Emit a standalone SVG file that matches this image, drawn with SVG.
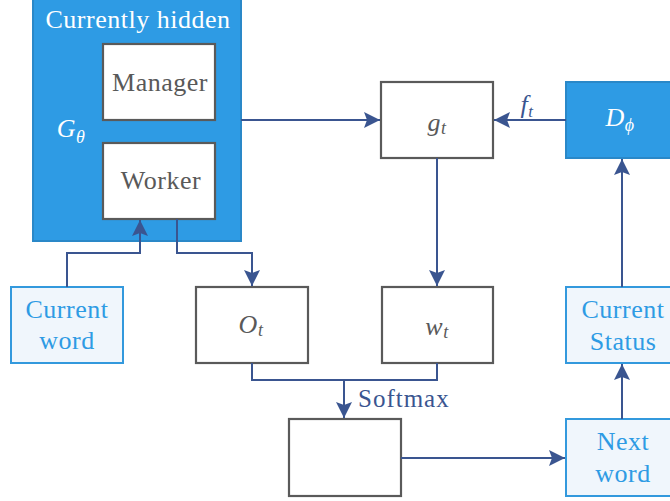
<svg xmlns="http://www.w3.org/2000/svg" width="670" height="501" viewBox="0 0 670 501">
<defs>
<style>
.blue{fill:#2e9be4;stroke:#2a88c8;stroke-width:2}
.gray{fill:#ffffff;stroke:#5a5a5a;stroke-width:2.2}
.light{fill:#f0f6fc;stroke:#3399dd;stroke-width:2}
.t{font-family:"Liberation Serif","Times New Roman",serif;font-size:26px;text-anchor:middle;letter-spacing:0.5px}
.w{fill:#ffffff}
.g{fill:#595959}
.b{fill:#2e9be4}
.i{font-style:italic}
.c{fill:none;stroke:#3a5590;stroke-width:2}
</style>
<marker id="ah" markerUnits="userSpaceOnUse" markerWidth="18" markerHeight="18" viewBox="0 0 18 18" refX="16" refY="9" orient="auto">
<path d="M0,1 L16,9 L0,17 L3,9 Z" fill="#3a5590"/>
</marker>
</defs>
<g id="generator">
<rect class="blue" x="33" y="-3" width="208" height="244"/>
<text class="t w" x="138" y="28">Currently hidden</text>
<text class="t w i" x="71" y="137">G<tspan font-size="18" dy="6">θ</tspan></text>
</g>
<g id="manager">
<rect class="gray" x="103" y="44" width="112" height="76"/>
<text class="t g" x="160" y="91">Manager</text>
</g>
<g id="worker">
<rect class="gray" x="103" y="143" width="112" height="76"/>
<text class="t g" x="161" y="189">Worker</text>
</g>
<g id="gt">
<rect class="gray" x="381" y="82" width="112" height="76"/>
<text class="t g i" x="437" y="131">g<tspan font-size="18" dy="3">t</tspan></text>
</g>
<g id="dphi">
<rect class="blue" x="566" y="82" width="110" height="76"/>
<text class="t w i" x="620" y="126">D<tspan font-size="18" dy="5">ϕ</tspan></text>
</g>
<g id="current-word">
<rect class="light" x="11" y="287" width="112" height="76"/>
<text class="t b" x="67" y="318">Current</text>
<text class="t b" x="67" y="349">word</text>
</g>
<g id="ot">
<rect class="gray" x="196" y="287" width="112" height="76"/>
<text class="t g i" x="251" y="333">O<tspan font-size="18" dy="3">t</tspan></text>
</g>
<g id="wt">
<rect class="gray" x="382" y="287" width="111" height="76"/>
<text class="t g i" x="437" y="335">w<tspan font-size="18" dy="3">t</tspan></text>
</g>
<g id="current-status">
<rect class="light" x="566" y="287" width="110" height="76"/>
<text class="t b" x="623" y="318">Current</text>
<text class="t b" x="623" y="350">Status</text>
</g>
<g id="output">
<rect class="gray" x="289" y="419" width="112" height="77"/>
</g>
<g id="next-word">
<rect class="light" x="566" y="419" width="110" height="77"/>
<text class="t b" x="623" y="450">Next</text>
<text class="t b" x="623" y="482">word</text>
</g>
<g id="connectors">
<path class="c" d="M241,120 H380" marker-end="url(#ah)"/>
<path class="c" d="M566,120 H494" marker-end="url(#ah)"/>
<path class="c" d="M437,158 V286" marker-end="url(#ah)"/>
<path class="c" d="M67,287 V253 H140 V220" marker-end="url(#ah)"/>
<path class="c" d="M177,219 V253 H252 V286" marker-end="url(#ah)"/>
<path class="c" d="M252,363 V380 H437 V363"/>
<path class="c" d="M344,380 V418" marker-end="url(#ah)"/>
<path class="c" d="M401,458 H565" marker-end="url(#ah)"/>
<path class="c" d="M622,419 V364" marker-end="url(#ah)"/>
<path class="c" d="M622,287 V159" marker-end="url(#ah)"/>
<text class="t i" x="527" y="113" fill="#3a5590" font-size="25">f<tspan font-size="17" dy="4">t</tspan></text>
<text x="358" y="407" font-family="'Liberation Serif','Times New Roman',serif" font-size="25" letter-spacing="1" fill="#3a5590">Softmax</text>
</g>
</svg>
